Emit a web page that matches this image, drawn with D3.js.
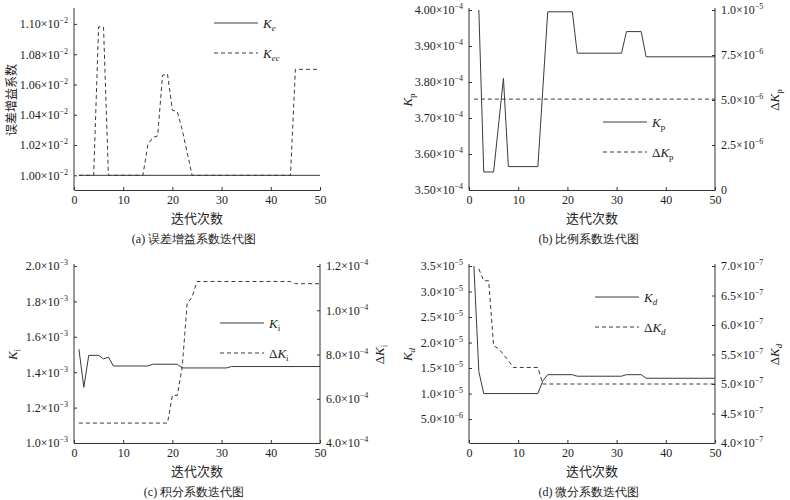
<!DOCTYPE html>
<html><head><meta charset="utf-8">
<script src="https://cdn.jsdelivr.net/npm/d3@7"></script>
<style>body{margin:0;background:#fff}svg{font-family:"Liberation Serif","DejaVu Serif",serif}</style>
</head><body><svg id="c" width="790" height="500"></svg>
<script>
// ---- data ----
const keX=[1,50], keY=[1.00e-2,1.00e-2];
const kecX=[1,4,5,6,7,14,15,16,17,18,19,20,21,22,23,24,44,45,50];
const kecY=[1,1,1.098,1.098,1,1,1.02,1.025,1.026,1.066,1.067,1.043,1.042,1.03,1.015,1,1,1.07,1.07].map(v=>v*1e-2);
const kpX=[2,3,5,7,8,14,16,21,22,31,32,35,36,50];
const kpY=[4.00,3.55,3.55,3.81,3.565,3.565,3.995,3.995,3.88,3.88,3.94,3.94,3.87,3.87].map(v=>v*1e-4);
const dkpX=[1,50], dkpY=[5.05e-6,5.05e-6];
const kiX=[1,2,3,5,6,7,8,15,16,21,22,31,32,50];
const kiY=[1.53,1.315,1.495,1.495,1.475,1.485,1.435,1.435,1.445,1.445,1.424,1.424,1.432,1.432].map(v=>v*1e-3);
const dkiX=[1,19,20,21,22,23,24,25,44,45,50];
const dkiY=[4.9,4.9,6.15,6.15,7.45,10.3,10.6,11.3,11.3,11.2,11.2].map(v=>v*1e-5);
const kdX=[1,2,3,14,15,16,21,22,31,32,35,36,50];
const kdY=[3.5,1.43,1.0,1.0,1.25,1.37,1.37,1.34,1.34,1.37,1.37,1.30,1.30].map(v=>v*1e-5);
const dkdX=[2,3,4,5,6,7,8,9,14,15,50];
const dkdY=[6.95,6.75,6.75,5.65,5.6,5.5,5.4,5.28,5.28,5.0,5.0].map(v=>v*1e-7);
const xTicks=[0,10,20,30,40,50];
// tick labels: [value, mantissa, exponent]
const aLeft=[[1.00e-2,"1.00","−2"],[1.02e-2,"1.02","−2"],[1.04e-2,"1.04","−2"],[1.06e-2,"1.06","−2"],[1.08e-2,"1.08","−2"],[1.10e-2,"1.10","−2"]];
const bLeft=[[3.5e-4,"3.50","−4"],[3.6e-4,"3.60","−4"],[3.7e-4,"3.70","−4"],[3.8e-4,"3.80","−4"],[3.9e-4,"3.90","−4"],[4.0e-4,"4.00","−4"]];
const bRight=[[0,"0",""],[2.5e-6,"2.5","−6"],[5e-6,"5.0","−6"],[7.5e-6,"7.5","−6"],[1e-5,"1.0","−5"]];
const cLeft=[[1.0e-3,"1.0","−3"],[1.2e-3,"1.2","−3"],[1.4e-3,"1.4","−3"],[1.6e-3,"1.6","−3"],[1.8e-3,"1.8","−3"],[2.0e-3,"2.0","−3"]];
const cRight=[[4e-5,"4.0","−4"],[6e-5,"6.0","−4"],[8e-5,"8.0","−4"],[1e-4,"1.0","−4"],[1.2e-4,"1.2","−4"]];
const dLeft=[[5e-6,"5.0","−6"],[1e-5,"1.0","−5"],[1.5e-5,"1.5","−5"],[2e-5,"2.0","−5"],[2.5e-5,"2.5","−5"],[3e-5,"3.0","−5"],[3.5e-5,"3.5","−5"]];
const dRight=[[4e-7,"4.0","−7"],[4.5e-7,"4.5","−7"],[5e-7,"5.0","−7"],[5.5e-7,"5.5","−7"],[6e-7,"6.0","−7"],[6.5e-7,"6.5","−7"],[7e-7,"7.0","−7"]];

const svg=d3.select("#c");
const C="#333";
function lbl(sel,m,e){sel.text(null);sel.append("tspan").text(m+(e?"×10":""));if(e)sel.append("tspan").attr("dy",-5).attr("font-size",8).text(e);}
function kname(g,x,y,base,sub,italicSub,pre,rot){
  const t=g.append("text").attr("x",x).attr("y",y).attr("font-size",13).attr("fill","#222");
  if(rot) t.attr("transform",`rotate(-90,${x},${y})`).attr("text-anchor","middle");
  if(pre) t.append("tspan").text(pre);
  t.append("tspan").attr("font-style","italic").text(base);
  t.append("tspan").attr("dy",3).attr("font-size",9).attr("font-style",italicSub?"italic":"normal").text(sub);
}
function panel(p){
  const g=svg.append("g");
  const x=d3.scaleLinear().domain([0,50]).range([p.x0,p.x1]);
  const yl=d3.scaleLinear().domain(p.ld).range([p.bot,p.top]);
  const yr=p.rd?d3.scaleLinear().domain(p.rd).range([p.bot,p.top]):null;
  const ax=g.append("g").attr("transform",`translate(0,${p.bot})`).call(d3.axisBottom(x).tickValues(xTicks).tickSizeInner(-3).tickSizeOuter(0).tickPadding(5));
  const al=g.append("g").attr("transform",`translate(${p.x0},0)`).call(d3.axisLeft(yl).tickValues(p.lt.map(d=>d[0])).tickSizeInner(-3).tickSizeOuter(0).tickPadding(6));
  al.selectAll(".tick text").each(function(d,i){lbl(d3.select(this),p.lt[i][1],p.lt[i][2]);});
  al.select(".domain").attr("d",`M0,${p.bot}V${p.top-2}`);
  const axes=[ax,al];
  if(yr){const ar=g.append("g").attr("transform",`translate(${p.x1},0)`).call(d3.axisRight(yr).tickValues(p.rt.map(d=>d[0])).tickSizeInner(-3).tickSizeOuter(0).tickPadding(6));
    ar.selectAll(".tick text").each(function(d,i){lbl(d3.select(this),p.rt[i][1],p.rt[i][2]);});
    ar.select(".domain").attr("d",`M0,${p.bot}V${p.top-2}`);axes.push(ar);}
  axes.forEach(a=>{a.selectAll("path,line").attr("stroke",C);a.selectAll("text").attr("font-size",12).attr("fill","#222").attr("font-family","Liberation Serif");});
  const line=(xs,ys,sc,dash)=>g.append("path").attr("d",d3.line().x((d,i)=>x(xs[i])).y(d=>sc(d))(ys)).attr("fill","none").attr("stroke","#3a3a3a").attr("stroke-width",1).attr("stroke-dasharray",dash?"4,3":null);
  line(p.s2x,p.s2y,yr||yl,true);
  line(p.s1x,p.s1y,yl,false);
  // legend
  g.append("line").attr("x1",p.lx).attr("x2",p.lx+44).attr("y1",p.ly).attr("y2",p.ly).attr("stroke","#3a3a3a");
  g.append("line").attr("x1",p.lx).attr("x2",p.lx+44).attr("y1",p.ly+30).attr("y2",p.ly+30).attr("stroke","#3a3a3a").attr("stroke-dasharray","4,3");
  kname(g,p.lx+49,p.ly+5,"K",p.sub,p.isub,"",false);
  kname(g,p.lx+49,p.ly+35,"K",p.sub2||p.sub,p.isub,p.sub2?"":"Δ",false);
  const cx=(p.x0+p.x1)/2;
  g.append("text").attr("x",cx).attr("y",p.bot+33).attr("text-anchor","middle").attr("font-size",13).attr("font-family","Noto Sans CJK SC").attr("fill","#222").text("迭代次数");
  g.append("text").attr("x",cx-3).attr("y",p.bot+53).attr("text-anchor","middle").attr("font-size",12).attr("fill","#222").text(p.cap);
  if(p.ylab) g.append("text").attr("x",p.ylx).attr("y",(p.top+p.bot)/2).attr("transform",`rotate(-90,${p.ylx},${(p.top+p.bot)/2})`).attr("text-anchor","middle").attr("font-size",12).attr("font-family","Noto Sans CJK SC").attr("fill","#222").text(p.ylab);
  else kname(g,p.ylx,(p.top+p.bot)/2,"K",p.sub,p.isub,"",true);
  if(yr) kname(g,p.yrx,(p.top+p.bot)/2,"K",p.sub,p.isub,"Δ",true);
}
panel({x0:74,x1:320,top:10,bot:190,ld:[0.9903e-2,1.1092e-2],lt:aLeft,s1x:keX,s1y:keY,s2x:kecX,s2y:kecY,lx:214,ly:23,sub:"e",sub2:"ec",isub:true,cap:"(a) 误差增益系数迭代图",ylab:"误差增益系数",ylx:16});
panel({x0:469,x1:715,top:10,bot:190,ld:[3.5e-4,4.0e-4],rd:[0,1e-5],lt:bLeft,rt:bRight,s1x:kpX,s1y:kpY,s2x:dkpX,s2y:dkpY,lx:603,ly:122,sub:"p",isub:false,cap:"(b) 比例系数迭代图",ylx:412,yrx:779});
panel({x0:74,x1:320,top:266,bot:443,ld:[1.0e-3,2.0e-3],rd:[4e-5,1.2e-4],lt:cLeft,rt:cRight,s1x:kiX,s1y:kiY,s2x:dkiX,s2y:dkiY,lx:220,ly:323,sub:"i",isub:false,cap:"(c) 积分系数迭代图",ylx:17,yrx:384});
panel({x0:469,x1:715,top:266,bot:443,ld:[0.31e-6,3.5e-5],rd:[4e-7,7e-7],lt:dLeft,rt:dRight,s1x:kdX,s1y:kdY,s2x:dkdX,s2y:dkdY,lx:595,ly:297,sub:"d",isub:true,cap:"(d) 微分系数迭代图",ylx:412,yrx:779});
</script></body></html>
